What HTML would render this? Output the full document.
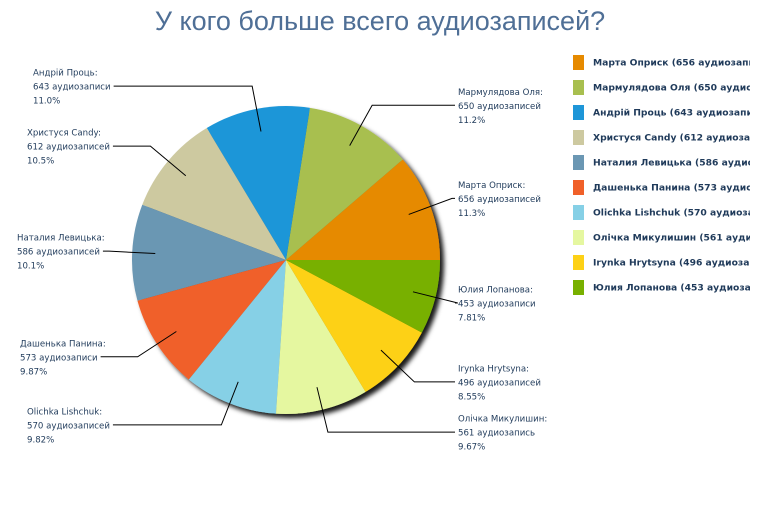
<!DOCTYPE html>
<html><head><meta charset="utf-8">
<style>
html,body{margin:0;padding:0;background:#fff;}
svg{display:block;}
</style></head>
<body>
<svg id="chart" width="760" height="510" xmlns="http://www.w3.org/2000/svg">
<defs>
<filter id="sh" x="-20%" y="-20%" width="140%" height="140%"><feDropShadow dx="4" dy="4" stdDeviation="2.5" flood-color="#000" flood-opacity="0.9"/></filter>
<clipPath id="lc"><rect x="560" y="40" width="190" height="270"/></clipPath>
</defs>
<text x="380" y="30" text-anchor="middle" font-family="'Liberation Sans','DejaVu Sans',sans-serif" font-size="27" fill="#4f6f96">У кого больше всего аудиозаписей?</text>
<g id="pie" filter="url(#sh)"></g>
<g id="labels"></g>
<g id="legend" clip-path="url(#lc)"></g>
</svg>
<script>
const names = ["Марта Оприск","Мармулядова Оля","Андрій Проць","Христуся Candy","Наталия Левицька","Дашенька Панина","Olichka Lishchuk","Олічка Микулишин","Irynka Hrytsyna","Юлия Лопанова"];
const values = [656,650,643,612,586,573,570,561,496,453];
const units = ["аудиозаписей","аудиозаписей","аудиозаписи","аудиозаписей","аудиозаписей","аудиозаписи","аудиозаписей","аудиозапись","аудиозаписей","аудиозаписи"];
const percents = ["11.3%","11.2%","11.0%","10.5%","10.1%","9.87%","9.82%","9.67%","8.55%","7.81%"];
const colors = ["#e68a00","#a8bf4f","#1e96d8","#cdc9a0","#6b97b3","#f06029","#86d0e6","#e5f7a0","#fdd116","#78b000"];

const NS="http://www.w3.org/2000/svg";
const cx=286, cy=260, R=154;
const leftLayoutX=[33,27,17,20,27];
const total=values.reduce((a,b)=>a+b,0);
const pie=document.getElementById('pie'), lab=document.getElementById('labels'), leg=document.getElementById('legend');
const FONT="'DejaVu Sans','Liberation Sans',sans-serif";
function pt(a,r){return [cx+r*Math.cos(a), cy-r*Math.sin(a)];}
let cum=0, leftIdx=0;
values.forEach((v,i)=>{
  const a0=cum/total*2*Math.PI; cum+=v; const a1=cum/total*2*Math.PI;
  const p0=pt(a0,R), p1=pt(a1,R);
  const path=document.createElementNS(NS,'path');
  path.setAttribute('d',`M${cx},${cy}L${p0[0]},${p0[1]}A${R},${R} 0 ${a1-a0>Math.PI?1:0} 0 ${p1[0]},${p1[1]}Z`);
  path.setAttribute('fill',colors[i]);
  
  
  pie.appendChild(path);
  const am=(a0+a1)/2;
  const pin=pt(am,R*0.85), el=pt(am,R*1.15);
  const right=Math.cos(am)>0;
  const ly=el[1];
  const g=document.createElementNS(NS,'g');
  
  
  lab.appendChild(g);
  const lines=[names[i]+':', v+' '+units[i], percents[i]];
  const texts=[];
  lines.forEach((s,k)=>{
    const t=document.createElementNS(NS,'text');
    t.setAttribute('y',ly+(k-1)*14+3.5);
    t.setAttribute('font-family',FONT);t.setAttribute('font-size','8.6');t.setAttribute('fill','#1f3a5a');
    t.textContent=s;g.appendChild(t);texts.push(t);
  });
  let lineEnd;
  if(right){texts.forEach(t=>t.setAttribute('x',458));lineEnd=455;}
  else{
    const x0=leftLayoutX[Math.min(leftIdx,leftLayoutX.length-1)]; leftIdx++;
    texts.forEach(t=>t.setAttribute('x',x0));
    lineEnd=x0+texts[1].getComputedTextLength()+3;
  }
  const pl=document.createElementNS(NS,'polyline');
  pl.setAttribute('points',`${pin[0]},${pin[1]} ${el[0]},${el[1]} ${lineEnd},${ly}`);
  pl.setAttribute('fill','none');pl.setAttribute('stroke','#000');pl.setAttribute('stroke-width','1');
  
  
  g.appendChild(pl);
  const ry=62+i*25;
  const sw=document.createElementNS(NS,'rect');
  sw.setAttribute('x',573);sw.setAttribute('y',ry-7);sw.setAttribute('width',11);sw.setAttribute('height',15);
  sw.setAttribute('fill',colors[i]);
  
  
  leg.appendChild(sw);
  const lt=document.createElementNS(NS,'text');
  lt.setAttribute('x',593);lt.setAttribute('y',ry+3.5);
  lt.setAttribute('font-family',FONT);lt.setAttribute('font-size','9.2');lt.setAttribute('font-weight','bold');lt.setAttribute('fill','#1f3a5a');
  lt.textContent=names[i]+' ('+v+' '+units[i]+')';
  
  
  leg.appendChild(lt);
});
</script>
</body></html>
